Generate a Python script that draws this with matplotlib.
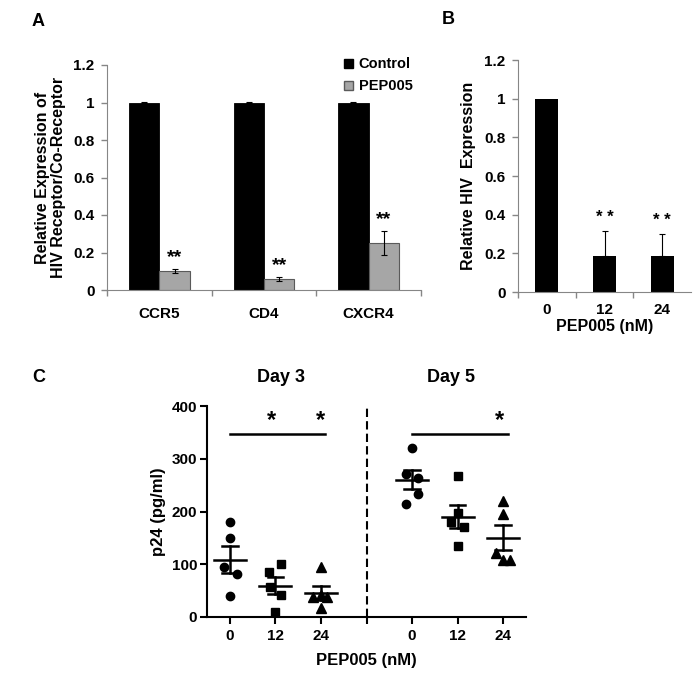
import numpy as np
import matplotlib
matplotlib.use("Agg")
import matplotlib.pyplot as plt
from matplotlib.patches import Patch

plt.rcParams['font.family'] = ['Liberation Sans', 'DejaVu Sans']
plt.rcParams['font.weight'] = 'bold'
plt.rcParams['axes.labelweight'] = 'bold'

# panel A
receptors = ["CCR5", "CD4", "CXCR4"]
control = [1.0, 1.0, 1.0]
control_err = [0.003, 0.003, 0.003]
pep005 = [0.10, 0.06, 0.25]
pep005_err = [0.01, 0.012, 0.065]

# panel B
doses = ["0", "12", "24"]
hiv_expr = [1.0, 0.185, 0.185]
hiv_err = [0.0, 0.13, 0.115]

# panel C (p24, pg/ml), 5 points per group
day3_0 = [181, 149, 94, 81, 40]
day3_12 = [100, 86, 57, 42, 10]
day3_24 = [95, 42, 38, 38, 17]
day5_0 = [320, 271, 263, 233, 214]
day5_12 = [267, 197, 181, 171, 135]
day5_24 = [220, 195, 122, 108, 108]
c_ticklabels = ["0", "12", "24", "", "0", "12", "24"]

W, H = 696, 694


def rect(x0, y0, x1, y1):
    # pixel box -> figure fraction
    return [x0 / W, 1 - y1 / H, (x1 - x0) / W, (y1 - y0) / H]


fig = plt.figure(figsize=(W / 100, H / 100), dpi=100)

gray = "#868686"

# ---------- A ----------
axA = fig.add_axes(rect(107, 65, 421, 290))
x = np.arange(len(receptors))
bw = 0.29
axA.bar(x - bw / 2, control, bw, color="black", edgecolor="black", lw=0.6)
axA.bar(x + bw / 2, pep005, bw, color="#a6a6a6", edgecolor="#5a5a5a", lw=0.8)
axA.errorbar(x - bw / 2, control, yerr=control_err, fmt="none", ecolor="black",
             elinewidth=0.8, capsize=2.5, capthick=0.8)
axA.errorbar(x + bw / 2, pep005, yerr=pep005_err, fmt="none", ecolor="black",
             elinewidth=0.8, capsize=2.5, capthick=0.8)
for xi, v, e in zip(x, pep005, pep005_err):
    axA.text(xi + bw / 2, v + e + 0.015, "**", ha="center", va="bottom", fontsize=14)
axA.set_xlim(-0.5, 2.5)
axA.set_ylim(0, 1.2)
axA.set_yticks(np.arange(0, 1.21, 0.2))
axA.set_yticklabels(["0", "0.2", "0.4", "0.6", "0.8", "1", "1.2"])
axA.set_xticks(x)
axA.set_xticklabels(receptors)
axA.set_xticks([-0.5, 0.5, 1.5, 2.5], minor=True)
axA.tick_params(axis="x", which="major", length=0, pad=12, labelsize=11)
axA.tick_params(axis="x", which="minor", length=4, color=gray, width=1)
axA.tick_params(axis="y", length=4, color=gray, width=1, labelsize=11, pad=5)
for s in ["top", "right"]:
    axA.spines[s].set_visible(False)
for s in ["left", "bottom"]:
    axA.spines[s].set_color(gray)
axA.set_ylabel("Relative Expression of\nHIV Receptor/Co-Receptor", fontsize=11.5,
               labelpad=5, linespacing=1.1)
axA.legend(handles=[Patch(facecolor="black", edgecolor="black", label="Control"),
                    Patch(facecolor="#a6a6a6", edgecolor="#5a5a5a", label="PEP005")],
           loc="upper right", bbox_to_anchor=(420 / W, 1 - 50 / H),
           bbox_transform=fig.transFigure, frameon=False, fontsize=10.5,
           handlelength=0.6, handleheight=0.6, handletextpad=0.4,
           labelspacing=0.55, borderpad=0)

# ---------- B ----------
axB = fig.add_axes(rect(518, 60, 691, 292))
xb = np.arange(len(doses))
axB.bar(xb, hiv_expr, 0.4, color="black")
axB.errorbar(xb[1:], hiv_expr[1:], yerr=[np.zeros(2), hiv_err[1:]], fmt="none",
             ecolor="black", elinewidth=0.8, capsize=2.5, capthick=0.8)
for xi, v, e in zip(xb[1:], hiv_expr[1:], hiv_err[1:]):
    axB.text(xi, v + e + 0.03, "* *", ha="center", va="bottom", fontsize=12)
axB.set_xlim(-0.5, 2.5)
axB.set_ylim(0, 1.2)
axB.set_yticks(np.arange(0, 1.21, 0.2))
axB.set_yticklabels(["0", "0.2", "0.4", "0.6", "0.8", "1", "1.2"])
axB.set_xticks(xb)
axB.set_xticklabels(doses)
axB.set_xticks([-0.5, 0.5, 1.5], minor=True)
axB.tick_params(axis="x", which="major", length=0, pad=8, labelsize=11)
axB.tick_params(axis="x", which="minor", length=4, color=gray, width=1)
axB.tick_params(axis="y", length=4, color=gray, width=1, labelsize=11, pad=5)
for s in ["top", "right"]:
    axB.spines[s].set_visible(False)
for s in ["left", "bottom"]:
    axB.spines[s].set_color(gray)
axB.set_ylabel("Relative HIV  Expression", fontsize=11.5, labelpad=6)
axB.set_xlabel("PEP005 (nM)", fontsize=11.5, labelpad=1)

# ---------- C ----------
axC = fig.add_axes(rect(207, 406, 526, 617))
groups = [day3_0, day3_12, day3_24, day5_0, day5_12, day5_24]
positions = [0, 1, 2, 4, 5, 6]
markers = ["o", "s", "^", "o", "s", "^"]
jitter = [[0, 0, -0.13, 0.15, 0],
          [0.12, -0.15, -0.12, 0.12, 0],
          [0, 0, -0.18, 0.13, 0],
          [0, -0.14, 0.14, 0.14, -0.14],
          [0, 0, -0.14, 0.13, 0],
          [0, 0, -0.15, 0, 0.15]]
for vals, pos, m, jit in zip(groups, positions, markers, jitter):
    vals = np.array(vals, dtype=float)
    axC.plot(pos + np.array(jit), vals, m, color="black",
             ms=6.5 if m == "^" else 6, ls="none", clip_on=False, zorder=3)
    mean = vals.mean()
    sem = vals.std(ddof=1) / np.sqrt(len(vals))
    axC.plot([pos - 0.35, pos + 0.35], [mean, mean], color="black", lw=1.8, zorder=4)
    axC.plot([pos, pos], [mean - sem, mean + sem], color="black", lw=1.8, zorder=4)
    for yy in (mean - sem, mean + sem):
        axC.plot([pos - 0.17, pos + 0.17], [yy, yy], color="black", lw=1.8, zorder=4)

axC.axvline(3, color="black", lw=1.5, ls=(0, (4, 2)))
# significance bars
axC.plot([0, 2.1], [347, 347], color="black", lw=1.8, clip_on=False)
axC.plot([4, 6.1], [347, 347], color="black", lw=1.8, clip_on=False)
for xs in (0.92, 1.99, 5.92):
    axC.text(xs, 372, "*", ha="center", va="center", fontsize=17, clip_on=False)

axC.set_xlim(-0.5, 6.5)
axC.set_ylim(0, 400)
axC.set_yticks([0, 100, 200, 300, 400])
axC.set_xticks(range(7))
axC.set_xticklabels(c_ticklabels)
axC.tick_params(axis="both", length=5, width=1.5, labelsize=11)
axC.tick_params(axis="y", pad=2)
for s in ["top", "right"]:
    axC.spines[s].set_visible(False)
for s in ["left", "bottom"]:
    axC.spines[s].set_linewidth(1.5)
axC.set_ylabel("p24 (pg/ml)", fontsize=12, labelpad=4)
axC.set_xlabel("PEP005 (nM)", fontsize=12, labelpad=7)

fig.text(281 / W, 1 - 378 / H, "Day 3", ha="center", va="center", fontsize=13)
fig.text(451 / W, 1 - 378 / H, "Day 5", ha="center", va="center", fontsize=13)

# panel letters
fig.text(38 / W, 1 - 22 / H, "A", ha="center", va="center", fontsize=13)
fig.text(448 / W, 1 - 20 / H, "B", ha="center", va="center", fontsize=13)
fig.text(39 / W, 1 - 378 / H, "C", ha="center", va="center", fontsize=13)

fig.savefig("out.png", dpi=100)
